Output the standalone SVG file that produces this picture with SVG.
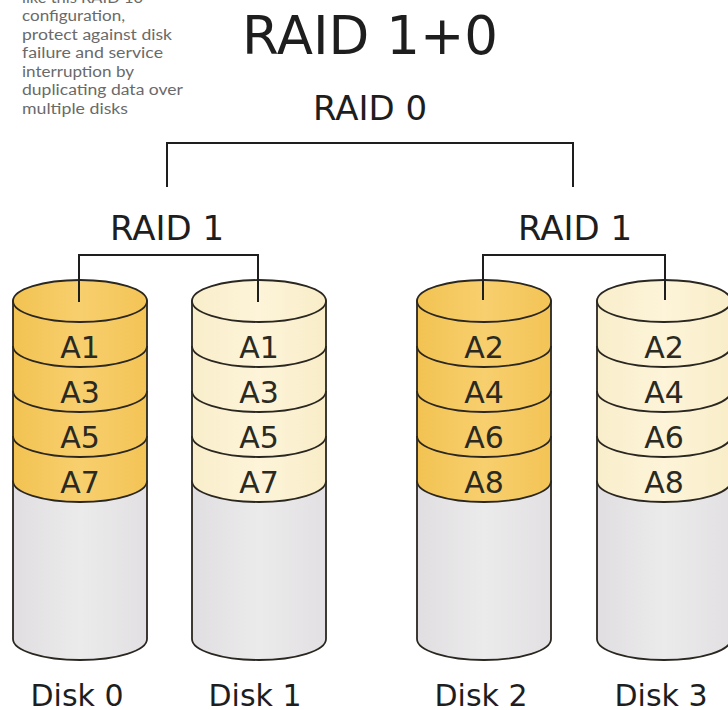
<svg xmlns="http://www.w3.org/2000/svg" width="728" height="710" viewBox="0 0 728 710">
<defs>
<linearGradient id="grey" x1="0" y1="0" x2="1" y2="0">
<stop offset="0" stop-color="#e0dee0"/><stop offset="0.5" stop-color="#ecebec"/><stop offset="1" stop-color="#e2e0e2"/>
</linearGradient>
<linearGradient id="gold" x1="0" y1="0" x2="1" y2="0">
<stop offset="0" stop-color="#f2c352"/><stop offset="0.5" stop-color="#f8cf6e"/><stop offset="1" stop-color="#f3c456"/>
</linearGradient>
<linearGradient id="cream" x1="0" y1="0" x2="1" y2="0">
<stop offset="0" stop-color="#f9eecb"/><stop offset="0.5" stop-color="#fdf4d9"/><stop offset="1" stop-color="#f9edc8"/>
</linearGradient>
</defs>
<style>
.note{font-family:Lato,"Open Sans",sans-serif;font-size:15.5px;fill:#6a6a6a}
.lbl{font-family:"DejaVu Sans",Verdana,sans-serif;fill:#1e1e1e;text-anchor:middle}
.title{font-size:53px}
.raid{font-size:34px}
.blk{font-size:30px;fill:#2a2a22}
.disk{font-size:30px}
.edge{stroke:#2a2620;stroke-width:1.8;stroke-linejoin:round}
.arc{fill:none;stroke:#2a2620;stroke-width:1.8}
.conn{fill:none;stroke:#1e1e1e;stroke-width:2}
</style>
<rect width="728" height="710" fill="#ffffff"/>

<g id="note">
<text class="note" x="22" y="3" textLength="121" lengthAdjust="spacingAndGlyphs">like this RAID 10</text>
<text class="note" x="22" y="21" textLength="103" lengthAdjust="spacingAndGlyphs">configuration,</text>
<text class="note" x="22" y="39.5" textLength="150" lengthAdjust="spacingAndGlyphs">protect against disk</text>
<text class="note" x="22" y="58" textLength="141" lengthAdjust="spacingAndGlyphs">failure and service</text>
<text class="note" x="22" y="76.5" textLength="112" lengthAdjust="spacingAndGlyphs">interruption by</text>
<text class="note" x="22" y="95" textLength="161" lengthAdjust="spacingAndGlyphs">duplicating data over</text>
<text class="note" x="22" y="113.5" textLength="106" lengthAdjust="spacingAndGlyphs">multiple disks</text>
</g>

<g id="title"><text class="lbl title" x="370" y="54">RAID 1+0</text></g>
<g id="raid0"><text class="lbl raid" x="370" y="120">RAID 0</text></g>
<g id="raid1-left"><text class="lbl raid" x="167" y="240">RAID 1</text></g>
<g id="raid1-right"><text class="lbl raid" x="575" y="240">RAID 1</text></g>

<g id="disk0">
<path class="edge" fill="url(#grey)" d="M13,481 V639 A67,21 0 0 0 147,639 V481 Z"/>
<path class="edge" fill="url(#gold)" d="M13,301 V481 A67,21 0 0 0 147,481 V301 Z"/>
<path class="arc" d="M13,346 A67,21 0 0 0 147,346 M13,391 A67,21 0 0 0 147,391 M13,436 A67,21 0 0 0 147,436"/>
<ellipse class="edge" fill="url(#gold)" cx="80" cy="301" rx="67" ry="21"/>
<text class="lbl blk" x="80" y="358">A1</text>
<text class="lbl blk" x="80" y="403">A3</text>
<text class="lbl blk" x="80" y="448">A5</text>
<text class="lbl blk" x="80" y="493">A7</text>
<text class="lbl disk" x="77" y="706">Disk 0</text>
</g>

<g id="disk1">
<path class="edge" fill="url(#grey)" d="M192,481 V639 A67,21 0 0 0 326,639 V481 Z"/>
<path class="edge" fill="url(#cream)" d="M192,301 V481 A67,21 0 0 0 326,481 V301 Z"/>
<path class="arc" d="M192,346 A67,21 0 0 0 326,346 M192,391 A67,21 0 0 0 326,391 M192,436 A67,21 0 0 0 326,436"/>
<ellipse class="edge" fill="url(#cream)" cx="259" cy="301" rx="67" ry="21"/>
<text class="lbl blk" x="259" y="358">A1</text>
<text class="lbl blk" x="259" y="403">A3</text>
<text class="lbl blk" x="259" y="448">A5</text>
<text class="lbl blk" x="259" y="493">A7</text>
<text class="lbl disk" x="255" y="706">Disk 1</text>
</g>

<g id="disk2">
<path class="edge" fill="url(#grey)" d="M417,481 V639 A67,21 0 0 0 551,639 V481 Z"/>
<path class="edge" fill="url(#gold)" d="M417,301 V481 A67,21 0 0 0 551,481 V301 Z"/>
<path class="arc" d="M417,346 A67,21 0 0 0 551,346 M417,391 A67,21 0 0 0 551,391 M417,436 A67,21 0 0 0 551,436"/>
<ellipse class="edge" fill="url(#gold)" cx="484" cy="301" rx="67" ry="21"/>
<text class="lbl blk" x="484" y="358">A2</text>
<text class="lbl blk" x="484" y="403">A4</text>
<text class="lbl blk" x="484" y="448">A6</text>
<text class="lbl blk" x="484" y="493">A8</text>
<text class="lbl disk" x="481" y="706">Disk 2</text>
</g>

<g id="disk3">
<path class="edge" fill="url(#grey)" d="M597,481 V639 A67,21 0 0 0 731,639 V481 Z"/>
<path class="edge" fill="url(#cream)" d="M597,301 V481 A67,21 0 0 0 731,481 V301 Z"/>
<path class="arc" d="M597,346 A67,21 0 0 0 731,346 M597,391 A67,21 0 0 0 731,391 M597,436 A67,21 0 0 0 731,436"/>
<ellipse class="edge" fill="url(#cream)" cx="664" cy="301" rx="67" ry="21"/>
<text class="lbl blk" x="664" y="358">A2</text>
<text class="lbl blk" x="664" y="403">A4</text>
<text class="lbl blk" x="664" y="448">A6</text>
<text class="lbl blk" x="664" y="493">A8</text>
<text class="lbl disk" x="661" y="706">Disk 3</text>
</g>

<g id="connectors">
<path class="conn" d="M167,187 V143 H573 V187"/>
<path class="conn" d="M79,302 V255 H258 V302"/>
<path class="conn" d="M483,300 V255 H665 V300"/>
</g>
</svg>
